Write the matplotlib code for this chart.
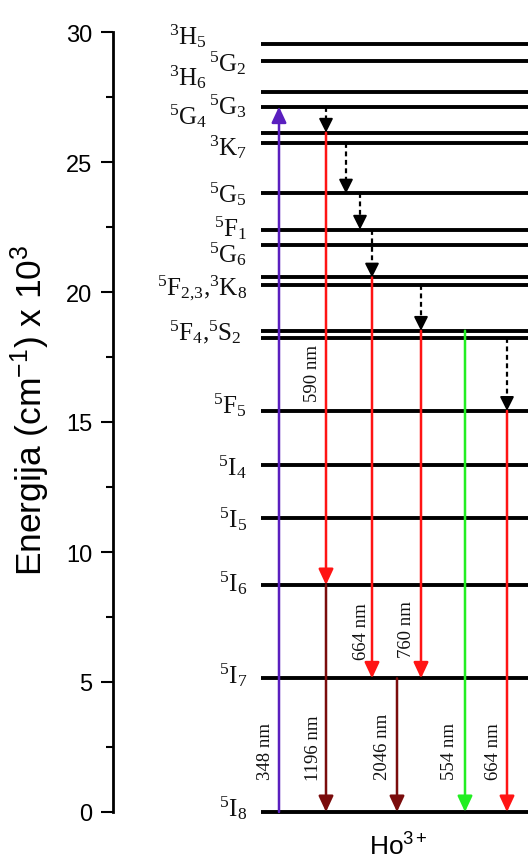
import matplotlib
matplotlib.use('Agg')
import matplotlib.pyplot as plt

plt.rcParams['mathtext.fontset'] = 'custom'
plt.rcParams['mathtext.rm'] = 'Liberation Serif'
plt.rcParams['mathtext.it'] = 'Liberation Serif:italic'
plt.rcParams['mathtext.sf'] = 'Liberation Sans'

# ---- data: energy levels of Ho3+ (x 10^3 cm^-1) ----
level_names = ['3H5', '5G2', '3H6', '5G3', '5G4', '3K7', '5G5', '5F1', '5G6',
               '5F2', '5F3', '5F4', '5S2', '5F5', '5I4', '5I5', '5I6', '5I7', '5I8']
level_energy = [29.54, 28.90, 27.70, 27.13, 26.13, 25.73, 23.79, 22.40, 21.80,
                20.56, 20.26, 18.51, 18.24, 15.43, 13.35, 11.29, 8.73, 5.14, 0.0]
E = dict(zip(level_names, level_energy))

# level labels (text, energy position)
label_texts = [r'${}^{3}\mathrm{H}_{5}$', r'${}^{5}\mathrm{G}_{2}$', r'${}^{3}\mathrm{H}_{6}$',
               r'${}^{5}\mathrm{G}_{3}$', r'${}^{5}\mathrm{G}_{4}$', r'${}^{3}\mathrm{K}_{7}$',
               r'${}^{5}\mathrm{G}_{5}$', r'${}^{5}\mathrm{F}_{1}$', r'${}^{5}\mathrm{G}_{6}$',
               r'${}^{5}\mathrm{F}_{2{,}3}\mathrm{,}{}^{3}\mathrm{K}_{8}$',
               r'${}^{5}\mathrm{F}_{4}\mathrm{,}{}^{5}\mathrm{S}_{2}$',
               r'${}^{5}\mathrm{F}_{5}$', r'${}^{5}\mathrm{I}_{4}$', r'${}^{5}\mathrm{I}_{5}$',
               r'${}^{5}\mathrm{I}_{6}$', r'${}^{5}\mathrm{I}_{7}$', r'${}^{5}\mathrm{I}_{8}$']
label_y = [29.9, 28.85, 28.3, 27.2, 26.8, 25.6, 23.8, 22.5, 21.5, 20.2, 18.5,
           15.7, 13.3, 11.3, 8.85, 5.3, 0.2]
label_x = [207, 247, 207, 247, 207, 247, 247, 247, 247, 247, 242,
           247, 247, 247, 247, 247, 247]

# radiative transitions: (from, to, colour key)
rad_from = ['5I8', '5G4', '5I6', '5F2', '5F4', '5I7', '5F4', '5F5']
rad_to = ['5G3', '5I6', '5I8', '5I7', '5I7', '5I8', '5I8', '5I8']
rad_col = ['violet', 'red', 'dark', 'red', 'red', 'dark', 'green', 'red']
rad_x = [279, 326, 326, 372, 421, 397, 465, 507]

# non-radiative relaxations (dashed)
nr_from = ['5G3', '3K7', '5G5', '5F1', '5F3', '5S2']
nr_to = ['5G4', '5G5', '5F1', '5F2', '5F4', '5F5']
nr_x = [326, 346, 360, 372, 421, 507]

# wavelength labels
wl_text = ['590 nm', '664 nm', '760 nm', '348 nm', '1196 nm', '2046 nm', '554 nm', '664 nm']
wl_x = [312.5, 361.5, 406.5, 266, 313, 382.5, 450, 493]
wl_y = [16.9, 6.97, 7.04, 2.36, 2.5, 2.55, 2.36, 2.36]

colors = {'violet': '#5a1fbf', 'red': '#ff1414', 'dark': '#7a0c0c', 'green': '#22ee22'}

W, H = 528, 862
fig = plt.figure(figsize=(W / 100, H / 100), dpi=100)
ax = fig.add_axes([113 / W, 49 / H, (W - 113) / W, 780 / H])
ax.set_xlim(113, 528)
ax.set_ylim(0, 30)

# level lines
ax.hlines(level_energy, 261, 528, colors='black', lw=2.8, clip_on=False, zorder=2)

# radiative arrows
for f, t, c, x in zip(rad_from, rad_to, rad_col, rad_x):
    ax.annotate('', xy=(x, E[t]), xytext=(x, E[f]),
                arrowprops=dict(arrowstyle='-|>,head_length=0.6,head_width=0.28',
                                color=colors[c], lw=1.8, shrinkA=0, shrinkB=0,
                                mutation_scale=16),
                zorder=3, annotation_clip=False)

# non-radiative dashed arrows
for f, t, x in zip(nr_from, nr_to, nr_x):
    ax.plot([x, x], [E[f], E[t] + 0.3], ls=(0, (2.2, 1.6)), color='black', lw=1.6, zorder=4)
    ax.annotate('', xy=(x, E[t]), xytext=(x, E[t] + 0.35),
                arrowprops=dict(arrowstyle='-|>,head_length=0.6,head_width=0.3',
                                color='black', lw=1.4, shrinkA=0, shrinkB=0,
                                mutation_scale=14),
                zorder=4)

# level labels
for txt, x, y in zip(label_texts, label_x, label_y):
    ax.text(x, y, txt, ha='right', va='center', fontsize=18, color='#111111',
            family='Liberation Serif', clip_on=False)

# wavelength labels
for txt, x, y in zip(wl_text, wl_x, wl_y):
    ax.text(x, y, txt, rotation=90, ha='center', va='center', fontsize=13.5,
            family='Liberation Serif', color='#111111')

# axis styling
for s in ['top', 'right', 'bottom']:
    ax.spines[s].set_visible(False)
ax.spines['left'].set_linewidth(2.0)
ax.set_xticks([])
ax.set_yticks([0, 5, 10, 15, 20, 25, 30])
ax.set_yticks([2.5, 7.5, 12.5, 17.5, 22.5, 27.5], minor=True)
ax.tick_params(axis='y', which='major', length=9, width=1.5, pad=6, labelsize=17)
ax.tick_params(axis='y', which='minor', length=5, width=1.5)
for lab in ax.get_yticklabels():
    lab.set_family('Liberation Sans')

fig.text(30 / W, 1 - 410 / H, r'Energija (cm$\mathsf{^{-1}}$) x 10$\mathsf{^{3}}$',
         rotation=90, ha='center', va='center', fontsize=25.5, family='Liberation Sans')
fig.text(398 / W, 1 - 847 / H, r'Ho$\mathsf{^{3+}}$', ha='center', va='center',
         fontsize=19, family='Liberation Sans')

fig.savefig('out.png', dpi=100)
